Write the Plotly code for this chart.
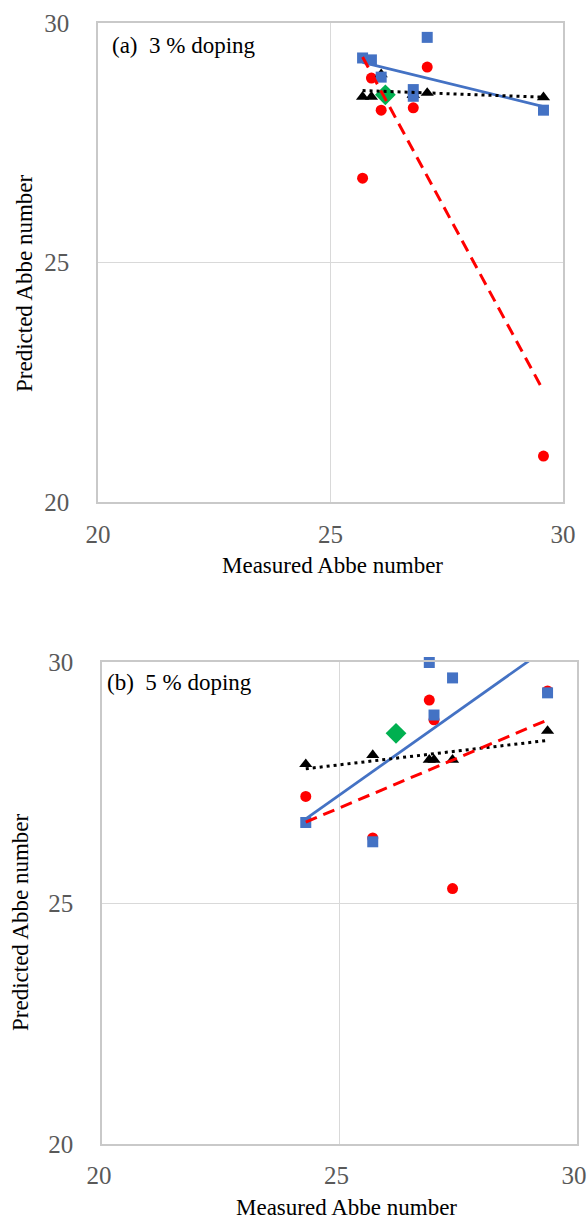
import numpy as np
import plotly.graph_objects as go

W, H = 587, 1221

# ---------------- data ----------------
# (a) 3 % doping
x_a = [25.69, 25.88, 26.09, 26.78, 26.78, 27.08, 29.58]
red_a = [26.76, 28.85, 28.18, 28.23, 28.55, 29.08, 20.96]
blue_a = [29.27, 29.23, 28.87, 28.61, 28.47, 29.70, 28.18]
black_a = [28.46, 28.46, 28.93, 28.50, 28.50, 28.54, 28.45]
green_a_x = [26.18]
green_a_y = [28.50]

# (b) 5 % doping
x_b = [24.29, 25.70, 26.89, 26.99, 27.38, 29.38]
red_b = [27.21, 26.35, 29.21, 28.80, 25.30, 29.40]
blue_b = [26.67, 26.27, 29.99, 28.90, 29.67, 29.36]
black_b = [27.88, 28.07, 27.97, 27.97, 27.97, 28.57]
green_b_x = [26.19]
green_b_y = [28.52]

tick_vals = [20, 25, 30]
tick_text = ["20", "25", "30"]
panel_labels = ["(a)\u00a0\u00a03 % doping", "(b)\u00a0\u00a05 % doping"]
x_title = "Measured Abbe number"
y_title = "Predicted Abbe number"

RED = "#FF0000"
BLUE = "#4472C4"
BLACK = "#000000"
GREEN = "#00B050"

fig = go.Figure()


def trend(x, y):
    k, b = np.polyfit(x, y, 1)
    xs = np.array([min(x), max(x)])
    return xs, k * xs + b


def add_panel(xa, ya, x, red, blue, black, gx, gy):
    common = dict(xaxis=xa, yaxis=ya, mode="markers", showlegend=False, cliponaxis=False)
    fig.add_trace(go.Scatter(x=x, y=red, marker=dict(symbol="circle", size=11, color=RED), **common))
    fig.add_trace(go.Scatter(x=x, y=black, marker=dict(symbol="triangle-up", size=11.5, color=BLACK), **common))
    fig.add_trace(go.Scatter(x=x, y=blue, marker=dict(symbol="square", size=11, color=BLUE), **common))
    fig.add_trace(go.Scatter(x=gx, y=gy, marker=dict(symbol="diamond", size=16, color=GREEN), **common))
    lc = dict(xaxis=xa, yaxis=ya, mode="lines", showlegend=False, cliponaxis=True)
    tx, ty = trend(x, blue)
    fig.add_trace(go.Scatter(x=tx, y=ty, line=dict(color=BLUE, width=2.75), **lc))
    tx, ty = trend(x, black)
    fig.add_trace(go.Scatter(x=tx, y=ty, line=dict(color=BLACK, width=3, dash="3px,4px"), **lc))
    tx, ty = trend(x, red)
    fig.add_trace(go.Scatter(x=tx, y=ty, line=dict(color=RED, width=3, dash="12px,7px"), **lc))


add_panel("x", "y", x_a, red_a, blue_a, black_a, green_a_x, green_a_y)
add_panel("x2", "y2", x_b, red_b, blue_b, black_b, green_b_x, green_b_y)

tickfont = dict(family="Liberation Serif, Times New Roman, serif", size=25, color="#595959")
axis_common = dict(
    range=[20, 30], tickvals=tick_vals, ticktext=tick_text, tickfont=tickfont,
    showgrid=True, gridcolor="#d9d9d9", gridwidth=1.3,
    showline=True, linecolor="#c9c9c9", linewidth=1.5, mirror=True,
    zeroline=False, ticks="", automargin=False, fixedrange=True,
    ticklabeloverflow="allow",
)

# pixel layout of plot areas
top_box = (98, 563, 23, 502)
bot_box = (102, 577, 662, 1144)


def dom_x(b):
    return [b[0] / W, b[1] / W]


def dom_y(b):
    return [1 - b[3] / H, 1 - b[2] / H]


fig.update_layout(
    width=W, height=H,
    margin=dict(l=0, r=0, t=0, b=0),
    paper_bgcolor="white", plot_bgcolor="white",
    xaxis=dict(domain=dom_x(top_box), anchor="y", ticklabelstandoff=9, **axis_common),
    yaxis=dict(domain=dom_y(top_box), anchor="x", ticklabelstandoff=22, **axis_common),
    xaxis2=dict(domain=dom_x(bot_box), anchor="y2", ticklabelstandoff=8, ticklabelshift=-3, **axis_common),
    yaxis2=dict(domain=dom_y(bot_box), anchor="x2", ticklabelstandoff=22, **axis_common),
)

titlefont = dict(family="Liberation Serif, Times New Roman, serif", size=23, color="#000000")
ann = []
ann.append(dict(text=panel_labels[0], x=110 / W, y=1 - 45 / H, xref="paper", yref="paper",
                xanchor="left", yanchor="middle", showarrow=False, font=titlefont))
ann.append(dict(text=panel_labels[1], x=105 / W, y=1 - 682 / H, xref="paper", yref="paper",
                xanchor="left", yanchor="middle", showarrow=False, font=titlefont))
ann.append(dict(text=x_title, x=332 / W, y=1 - 565 / H, xref="paper", yref="paper",
                xanchor="center", yanchor="middle", showarrow=False, font=titlefont))
ann.append(dict(text=x_title, x=346 / W, y=1 - 1207 / H, xref="paper", yref="paper",
                xanchor="center", yanchor="middle", showarrow=False, font=titlefont))
ann.append(dict(text=y_title, x=25 / W, y=1 - 283 / H, xref="paper", yref="paper",
                xanchor="center", yanchor="middle", showarrow=False, font=titlefont, textangle=-90))
ann.append(dict(text=y_title, x=20 / W, y=1 - 922 / H, xref="paper", yref="paper",
                xanchor="center", yanchor="middle", showarrow=False, font=titlefont, textangle=-90))
fig.update_layout(annotations=ann)

fig.write_html(
    "out.html",
    config={"displayModeBar": False},
    post_script="document.body.style.margin='0';document.body.style.overflow='hidden';",
)
